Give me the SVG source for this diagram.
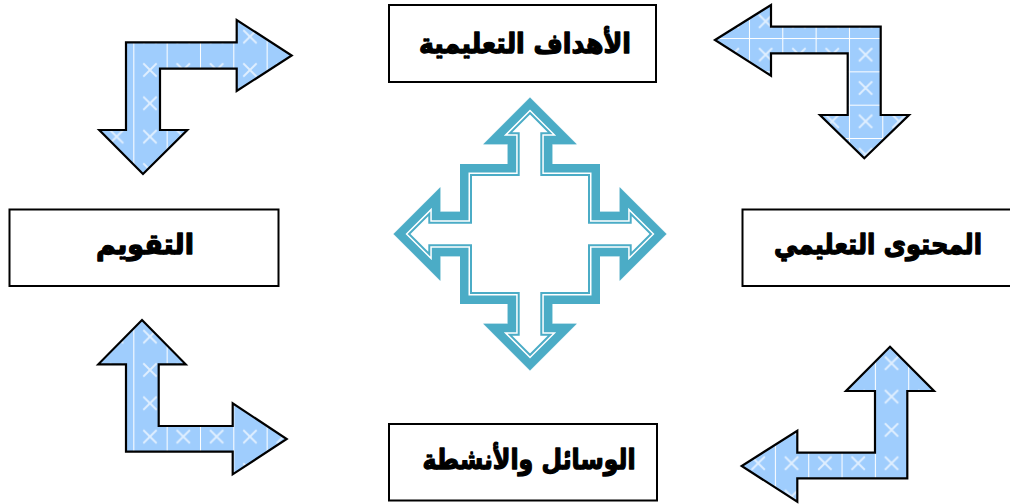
<svg xmlns="http://www.w3.org/2000/svg" xmlns:xlink="http://www.w3.org/1999/xlink" width="1010" height="504" viewBox="0 0 1010 504">
<style>
.box{fill:#fff;stroke:#000;stroke-width:2}
.lbl{font-family:"DejaVu Sans",sans-serif;font-weight:bold;font-size:28px;fill:#000;stroke:#000;stroke-width:1.3;stroke-linejoin:round;text-anchor:middle}
.arr{stroke:#000;stroke-width:2.2;stroke-linejoin:miter}
</style>
<defs>
<pattern id="pv" patternUnits="userSpaceOnUse" width="33.33" height="33.33" x="0" y="20">
<rect width="33.34" height="33.34" fill="#9fcdfd"/>
<line x1="0.5" y1="0" x2="0.5" y2="33.34" stroke="#fff" stroke-width="1"/>
<path d="M10 10L23.3 23.3M23.3 10L10 23.3" stroke="#e0efff" stroke-width="1.9" fill="none"/>
</pattern>
<pattern id="pvb" href="#pv" xlink:href="#pv" x="8.3" y="13.3"/>
<pattern id="pg" patternUnits="userSpaceOnUse" width="33.33" height="33.33" x="15.7" y="4.7">
<rect width="33.34" height="33.34" fill="#9fcdfd"/>
<line x1="0.5" y1="0" x2="0.5" y2="33.34" stroke="#fff" stroke-width="1"/>
<line x1="0" y1="0.5" x2="33.34" y2="0.5" stroke="#fff" stroke-width="1"/>
<path d="M10 10L23.3 23.3M23.3 10L10 23.3" stroke="#e0efff" stroke-width="1.9" fill="none"/>
</pattern>
<path id="cross" d="M530 97.5L576.7 144.3L552.3 144.3L552.3 164L600 164L600 211.7L619.7 211.7L619.7 187.3L666.5 234L619.7 280.7L619.7 256.3L600 256.3L600 304L552.3 304L552.3 323.7L576.7 323.7L530 370.5L483.3 323.7L507.7 323.7L507.7 304L460 304L460 256.3L440.3 256.3L440.3 280.7L393.5 234L440.3 187.3L440.3 211.7L460 211.7L460 164L507.7 164L507.7 144.3L483.3 144.3Z"/>
<clipPath id="crossclip"><use href="#cross" xlink:href="#cross"/></clipPath>
</defs>

<g id="node-objectives">
<rect class="box" x="389" y="5" width="267" height="77"/>
<text class="lbl" x="525" y="53" textLength="212" lengthAdjust="spacingAndGlyphs">الأهداف التعليمية</text>
</g>
<g id="node-evaluation">
<rect class="box" x="9.5" y="209.5" width="269" height="76.5"/>
<text class="lbl" x="145" y="254" textLength="98" lengthAdjust="spacingAndGlyphs">التقويم</text>
</g>
<g id="node-content">
<rect class="box" x="742.5" y="209.5" width="269" height="76.5"/>
<text class="lbl" x="878" y="254" textLength="208" lengthAdjust="spacingAndGlyphs">المحتوى التعليمي</text>
</g>
<g id="node-activities">
<rect class="box" x="389" y="424" width="268" height="76.5"/>
<text class="lbl" x="529" y="469" textLength="213" lengthAdjust="spacingAndGlyphs">الوسائل والأنشطة</text>
</g>

<g id="center-cross" clip-path="url(#crossclip)">
<use href="#cross" xlink:href="#cross" fill="#fff" stroke="#4bacc6" stroke-width="24" stroke-linejoin="miter"/>
<use href="#cross" xlink:href="#cross" fill="none" stroke="#fff" stroke-width="20" stroke-linejoin="miter"/>
<use href="#cross" xlink:href="#cross" fill="none" stroke="#4bacc6" stroke-width="17" stroke-linejoin="miter"/>
</g>

<g id="connectors">
<path class="arr" fill="url(#pv)" d="M126 42.3L236.7 42.3L236.7 20L291.7 55.5L236.7 91L236.7 68.7L160 68.7L160 130L187.3 130L143 174L99.3 130L126 130Z"/>
<path class="arr" fill="url(#pg)" d="M715 40L771 5L771 26.7L880.7 26.7L880.7 115L909 115L864.3 158.3L820 115L847.7 115L847.7 53.3L771 53.3L771 75.7Z"/>
<path class="arr" fill="url(#pv)" d="M142 320L185.7 364.3L158.7 364.3L158.7 426L232.7 426L232.7 403.3L286.7 439L232.7 474.3L232.7 451.7L126 451.7L126 364.3L98.3 364.3Z"/>
<path class="arr" fill="url(#pvb)" d="M890 346.7L934 391L907.3 391L907.3 478.3L797.3 478.3L797.3 501.7L741.7 466L797.3 430.7L797.3 452.7L875 452.7L875 391L846 391Z"/>
</g>
</svg>
